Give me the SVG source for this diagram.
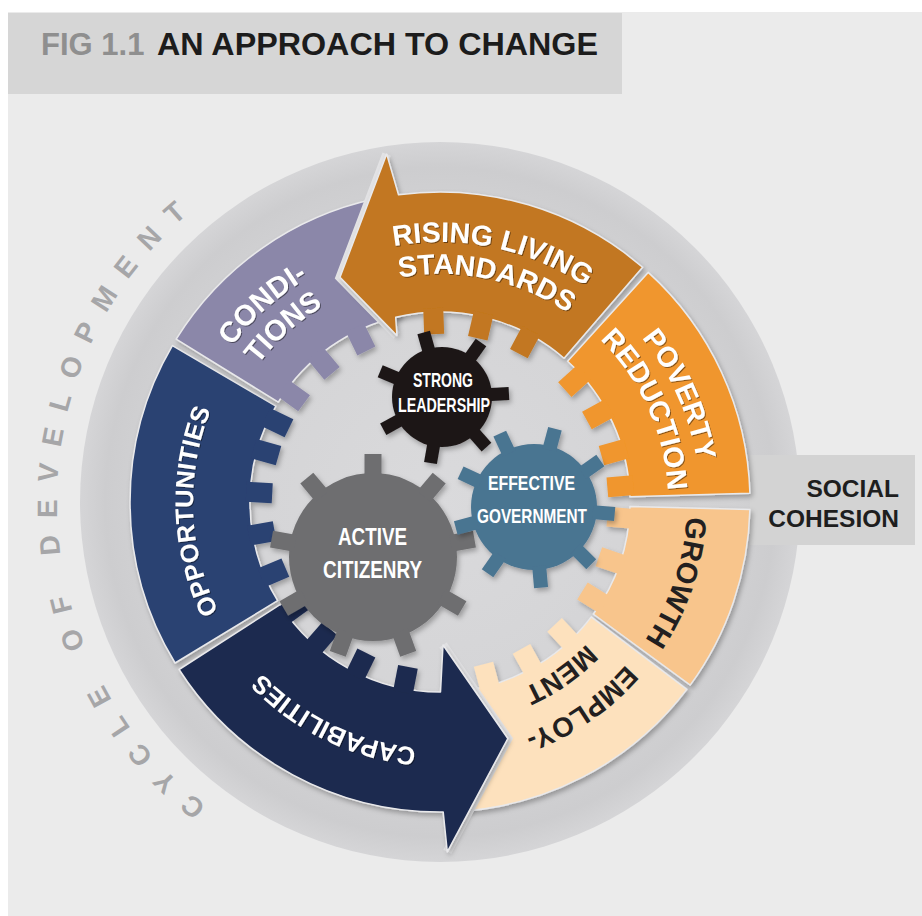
<svg xmlns="http://www.w3.org/2000/svg" width="922" height="916" viewBox="0 0 922 916">
<defs>
<style>
.lbl{font-family:"Liberation Sans",Arial,Helvetica,sans-serif;font-weight:700;text-anchor:middle}
.w{fill:#ffffff}
.d{fill:#231f20}
.gl{font-family:"Liberation Sans Narrow","Liberation Sans",Arial,sans-serif;font-weight:700;fill:#ffffff;text-anchor:middle}
.seg{stroke:#e9e9eb;stroke-width:1.5;stroke-linejoin:round}
.gap{fill:none;stroke:#e3e3e5;stroke-width:9;stroke-linejoin:miter}
.cyc{font-family:"Liberation Sans",Arial,sans-serif;font-weight:700;fill:#a6a6a8;text-anchor:middle}
.ttl{font-family:"Liberation Sans",Arial,Helvetica,sans-serif;font-weight:700}
</style>
<radialGradient id="disk" cx="440" cy="502" r="360" gradientUnits="userSpaceOnUse">
<stop offset="0" stop-color="#dadadc"/>
<stop offset="0.8" stop-color="#d2d2d4"/>
<stop offset="0.93" stop-color="#cdcdcf"/>
<stop offset="1" stop-color="#d5d5d7"/>
</radialGradient>
<filter id="sh" x="-20%" y="-20%" width="140%" height="140%">
<feDropShadow dx="2" dy="3" stdDeviation="2.5" flood-color="#000000" flood-opacity="0.28"/>
</filter>
<filter id="tsh" x="-10%" y="-10%" width="120%" height="120%">
<feDropShadow dx="1" dy="1" stdDeviation="0.7" flood-color="#000000" flood-opacity="0.45"/>
</filter>
<rect id="tooth" x="168" y="-10" width="26" height="20"/>
<rect id="tSL" x="45" y="-6.5" width="22" height="13"/>
<rect id="tEG" x="59" y="-7" width="22" height="14"/>
<rect id="tAC" x="79" y="-8.5" width="24" height="17"/>
<path id="c260" d="M700,502 A260,260 0 1 1 180,502 A260,260 0 1 1 700,502 A260,260 0 1 1 180,502 A260,260 0 1 1 700,502"/>
<path id="c228" d="M668,502 A228,228 0 1 1 212,502 A228,228 0 1 1 668,502 A228,228 0 1 1 212,502 A228,228 0 1 1 668,502"/>
<path id="c247" d="M687,502 A247,247 0 1 1 193,502 A247,247 0 1 1 687,502 A247,247 0 1 1 193,502 A247,247 0 1 1 687,502"/>
<path id="c204" d="M644,502 A204,204 0 1 1 236,502 A204,204 0 1 1 644,502 A204,204 0 1 1 236,502 A204,204 0 1 1 644,502"/>
<path id="c383" d="M823,502 A383,383 0 1 1 57,502 A383,383 0 1 1 823,502 A383,383 0 1 1 57,502 A383,383 0 1 1 823,502"/>
</defs>

<rect width="922" height="916" fill="#ffffff"/>
<rect x="8" y="12" width="914" height="904" fill="#ebebeb"/>

<g id="title">
<rect x="8" y="13" width="614" height="81" fill="#d6d6d6"/>
<text class="ttl" x="41" y="55" font-size="31" fill="#8f8f8f">FIG 1.1</text>
<text class="ttl" x="157" y="55" font-size="31" fill="#1c1c1c" textLength="441" lengthAdjust="spacingAndGlyphs">AN APPROACH TO CHANGE</text>
</g>

<circle id="ring" cx="440" cy="502" r="360" fill="url(#disk)"/>

<g id="social-cohesion">
<rect x="750" y="455" width="165" height="90" fill="#d3d3d3"/>
<text class="ttl" x="899" y="497" font-size="24.5" fill="#1e1e1e" text-anchor="end">SOCIAL</text>
<text class="ttl" x="899" y="527" font-size="24.5" fill="#1e1e1e" text-anchor="end">COHESION</text>
</g>

<g id="segments">
<g id="opportunities">
<g filter="url(#sh)" fill="#2a4272">
<path class="seg" d="M175.1,663 A310,310 0 0 1 172.4,345.6 L275.9,406.1 A190,190 0 0 0 277.6,600.7 Z"/>
<g transform="translate(440,502)"><use href="#tooth" transform="rotate(157)"/><use href="#tooth" transform="rotate(170)"/><use href="#tooth" transform="rotate(183)"/><use href="#tooth" transform="rotate(196)"/><use href="#tooth" transform="rotate(206)"/></g>
</g>
<text class="lbl w" font-size="25.5" filter="url(#tsh)"><textPath href="#c247" startOffset="766.1">OPPORTUNITIES</textPath></text>
</g>

<g id="conditions">
<g filter="url(#sh)" fill="#8b87a9">
<path class="seg" d="M176.2,339.1 A310,310 0 0 1 375.6,198.8 L400.5,316.2 A190,190 0 0 0 278.3,402.2 Z"/>
<g transform="translate(440,502)"><use href="#tooth" transform="rotate(216)"/><use href="#tooth" transform="rotate(230)"/><use href="#tooth" transform="rotate(244)"/></g>
</g>
<text class="lbl w" font-size="29" filter="url(#tsh)"><textPath href="#c260" startOffset="1034.6">CONDI-</textPath></text>
<text class="lbl w" font-size="29" filter="url(#tsh)"><textPath href="#c228" startOffset="907.3">TIONS</textPath></text>
</g>

<g id="rising-living-standards">
<polyline class="gap" points="396.9,335.5 340,277.3 386.7,154.1"/>
<g filter="url(#sh)" fill="#c27720">
<path class="seg" d="M340,277.3 L386.7,154.1 L398.5,194.8 A310,310 0 0 1 642.6,267.3 L564.1,358.2 A190,190 0 0 0 395.7,317.2 L396.9,335.5 Z"/>
<g transform="translate(440,502)"><use href="#tooth" transform="rotate(268)"/><use href="#tooth" transform="rotate(283)"/><use href="#tooth" transform="rotate(298)"/></g>
</g>
<text class="lbl w" font-size="28.5" filter="url(#tsh)"><textPath href="#c260" startOffset="1278.8">RISING LIVING</textPath></text>
<text class="lbl w" font-size="28.5" filter="url(#tsh)"><textPath href="#c228" startOffset="1121.4">STANDARDS</textPath></text>
</g>

<g id="poverty-reduction">
<g filter="url(#sh)" fill="#f0962d">
<path class="seg" d="M648.2,272.4 A310,310 0 0 1 749.9,493.3 L629.9,496.7 A190,190 0 0 0 567.6,361.2 Z"/>
<g transform="translate(440,502)"><use href="#tooth" transform="rotate(318)"/><use href="#tooth" transform="rotate(331)"/><use href="#tooth" transform="rotate(344)"/><use href="#tooth" transform="rotate(355)"/></g>
</g>
<text class="lbl w" font-size="28.5" filter="url(#tsh)"><textPath href="#c260" startOffset="1523.4">POVERTY</textPath></text>
<text class="lbl w" font-size="28.5" filter="url(#tsh)"><textPath href="#c228" startOffset="1335.9">REDUCTION</textPath></text>
</g>

<g id="growth">
<g filter="url(#sh)" fill="#f8c58c">
<path class="seg" d="M749.9,509.6 A310,310 0 0 1 690.2,685.1 L593.3,614.2 A190,190 0 0 0 629.9,506.6 Z"/>
<g transform="translate(440,502)"><use href="#tooth" transform="rotate(5)"/><use href="#tooth" transform="rotate(19)"/><use href="#tooth" transform="rotate(32)"/></g>
</g>
<text class="lbl d" font-size="29"><textPath href="#c247" startOffset="80.6">GROWTH</textPath></text>
</g>

<g id="employment">
<g filter="url(#sh)" fill="#fde1bd">
<path class="seg" d="M686.9,689.4 A310,310 0 0 1 450.8,811.8 L446.6,691.9 A190,190 0 0 0 591.3,616.9 Z"/>
<g transform="translate(440,502)"><use href="#tooth" transform="rotate(47)"/><use href="#tooth" transform="rotate(61)"/><use href="#tooth" transform="rotate(75)"/></g>
</g>
<text class="lbl d" font-size="27.5"><textPath href="#c247" startOffset="239.3">EMPLOY-</textPath></text>
<text class="lbl d" font-size="27.5"><textPath href="#c204" startOffset="195.8">MENT</textPath></text>
</g>

<g id="capabilities">
<polyline class="gap" points="447.3,851.9 507.8,738.5 443,645"/>
<g filter="url(#sh)" fill="#1c2a4f">
<path class="seg" d="M179.1,669.5 A310,310 0 0 0 443.2,812 L447.3,851.9 L507.8,738.5 L443,645 L440.5,692 A190,190 0 0 1 280.1,604.6 Z"/>
<g transform="translate(440,502)"><use href="#tooth" transform="rotate(101)"/><use href="#tooth" transform="rotate(116)"/><use href="#tooth" transform="rotate(131)"/><use href="#tooth" transform="rotate(144)"/></g>
</g>
<text class="lbl w" font-size="25.5" filter="url(#tsh)"><textPath href="#c247" startOffset="499.2">CAPABILITIES</textPath></text>
</g>
</g>

<g id="gears">
<g id="active-citizenry">
<g transform="translate(373,557)" fill="#6e6e70" filter="url(#sh)">
<circle r="84"/>
<use href="#tAC" transform="rotate(30)"/><use href="#tAC" transform="rotate(70)"/><use href="#tAC" transform="rotate(110)"/><use href="#tAC" transform="rotate(150)"/><use href="#tAC" transform="rotate(190)"/><use href="#tAC" transform="rotate(230)"/><use href="#tAC" transform="rotate(270)"/><use href="#tAC" transform="rotate(310)"/><use href="#tAC" transform="rotate(350)"/>
</g>
<text class="gl" x="372.5" y="545" font-size="23" textLength="69" lengthAdjust="spacingAndGlyphs">ACTIVE</text>
<text class="gl" x="372.5" y="578" font-size="23" textLength="99" lengthAdjust="spacingAndGlyphs">CITIZENRY</text>
</g>

<g id="effective-government">
<g transform="translate(534,507)" fill="#4a7491" filter="url(#sh)">
<circle r="63"/>
<use href="#tEG" transform="rotate(5)"/><use href="#tEG" transform="rotate(45)"/><use href="#tEG" transform="rotate(85)"/><use href="#tEG" transform="rotate(125)"/><use href="#tEG" transform="rotate(165)"/><use href="#tEG" transform="rotate(205)"/><use href="#tEG" transform="rotate(245)"/><use href="#tEG" transform="rotate(285)"/><use href="#tEG" transform="rotate(325)"/>
</g>
<text class="gl" x="531.5" y="490" font-size="21" textLength="87" lengthAdjust="spacingAndGlyphs">EFFECTIVE</text>
<text class="gl" x="532" y="523" font-size="21" textLength="110" lengthAdjust="spacingAndGlyphs">GOVERNMENT</text>
</g>

<g id="strong-leadership">
<g transform="translate(442,397)" fill="#1c1718" filter="url(#sh)">
<circle r="50"/>
<use href="#tSL" transform="rotate(-3)"/><use href="#tSL" transform="rotate(48.4)"/><use href="#tSL" transform="rotate(99.9)"/><use href="#tSL" transform="rotate(151.3)"/><use href="#tSL" transform="rotate(202.7)"/><use href="#tSL" transform="rotate(254.1)"/><use href="#tSL" transform="rotate(305.6)"/>
</g>
<text class="gl" x="443" y="387" font-size="21" textLength="60" lengthAdjust="spacingAndGlyphs">STRONG</text>
<text class="gl" x="444" y="412" font-size="21" textLength="92" lengthAdjust="spacingAndGlyphs">LEADERSHIP</text>
</g>
</g>

<g id="cycle-of-development">
<text class="cyc" font-size="28" letter-spacing="16.5"><textPath href="#c383" startOffset="1198.5">CYCLE OF DEVELOPMENT</textPath></text>
</g>
</svg>
